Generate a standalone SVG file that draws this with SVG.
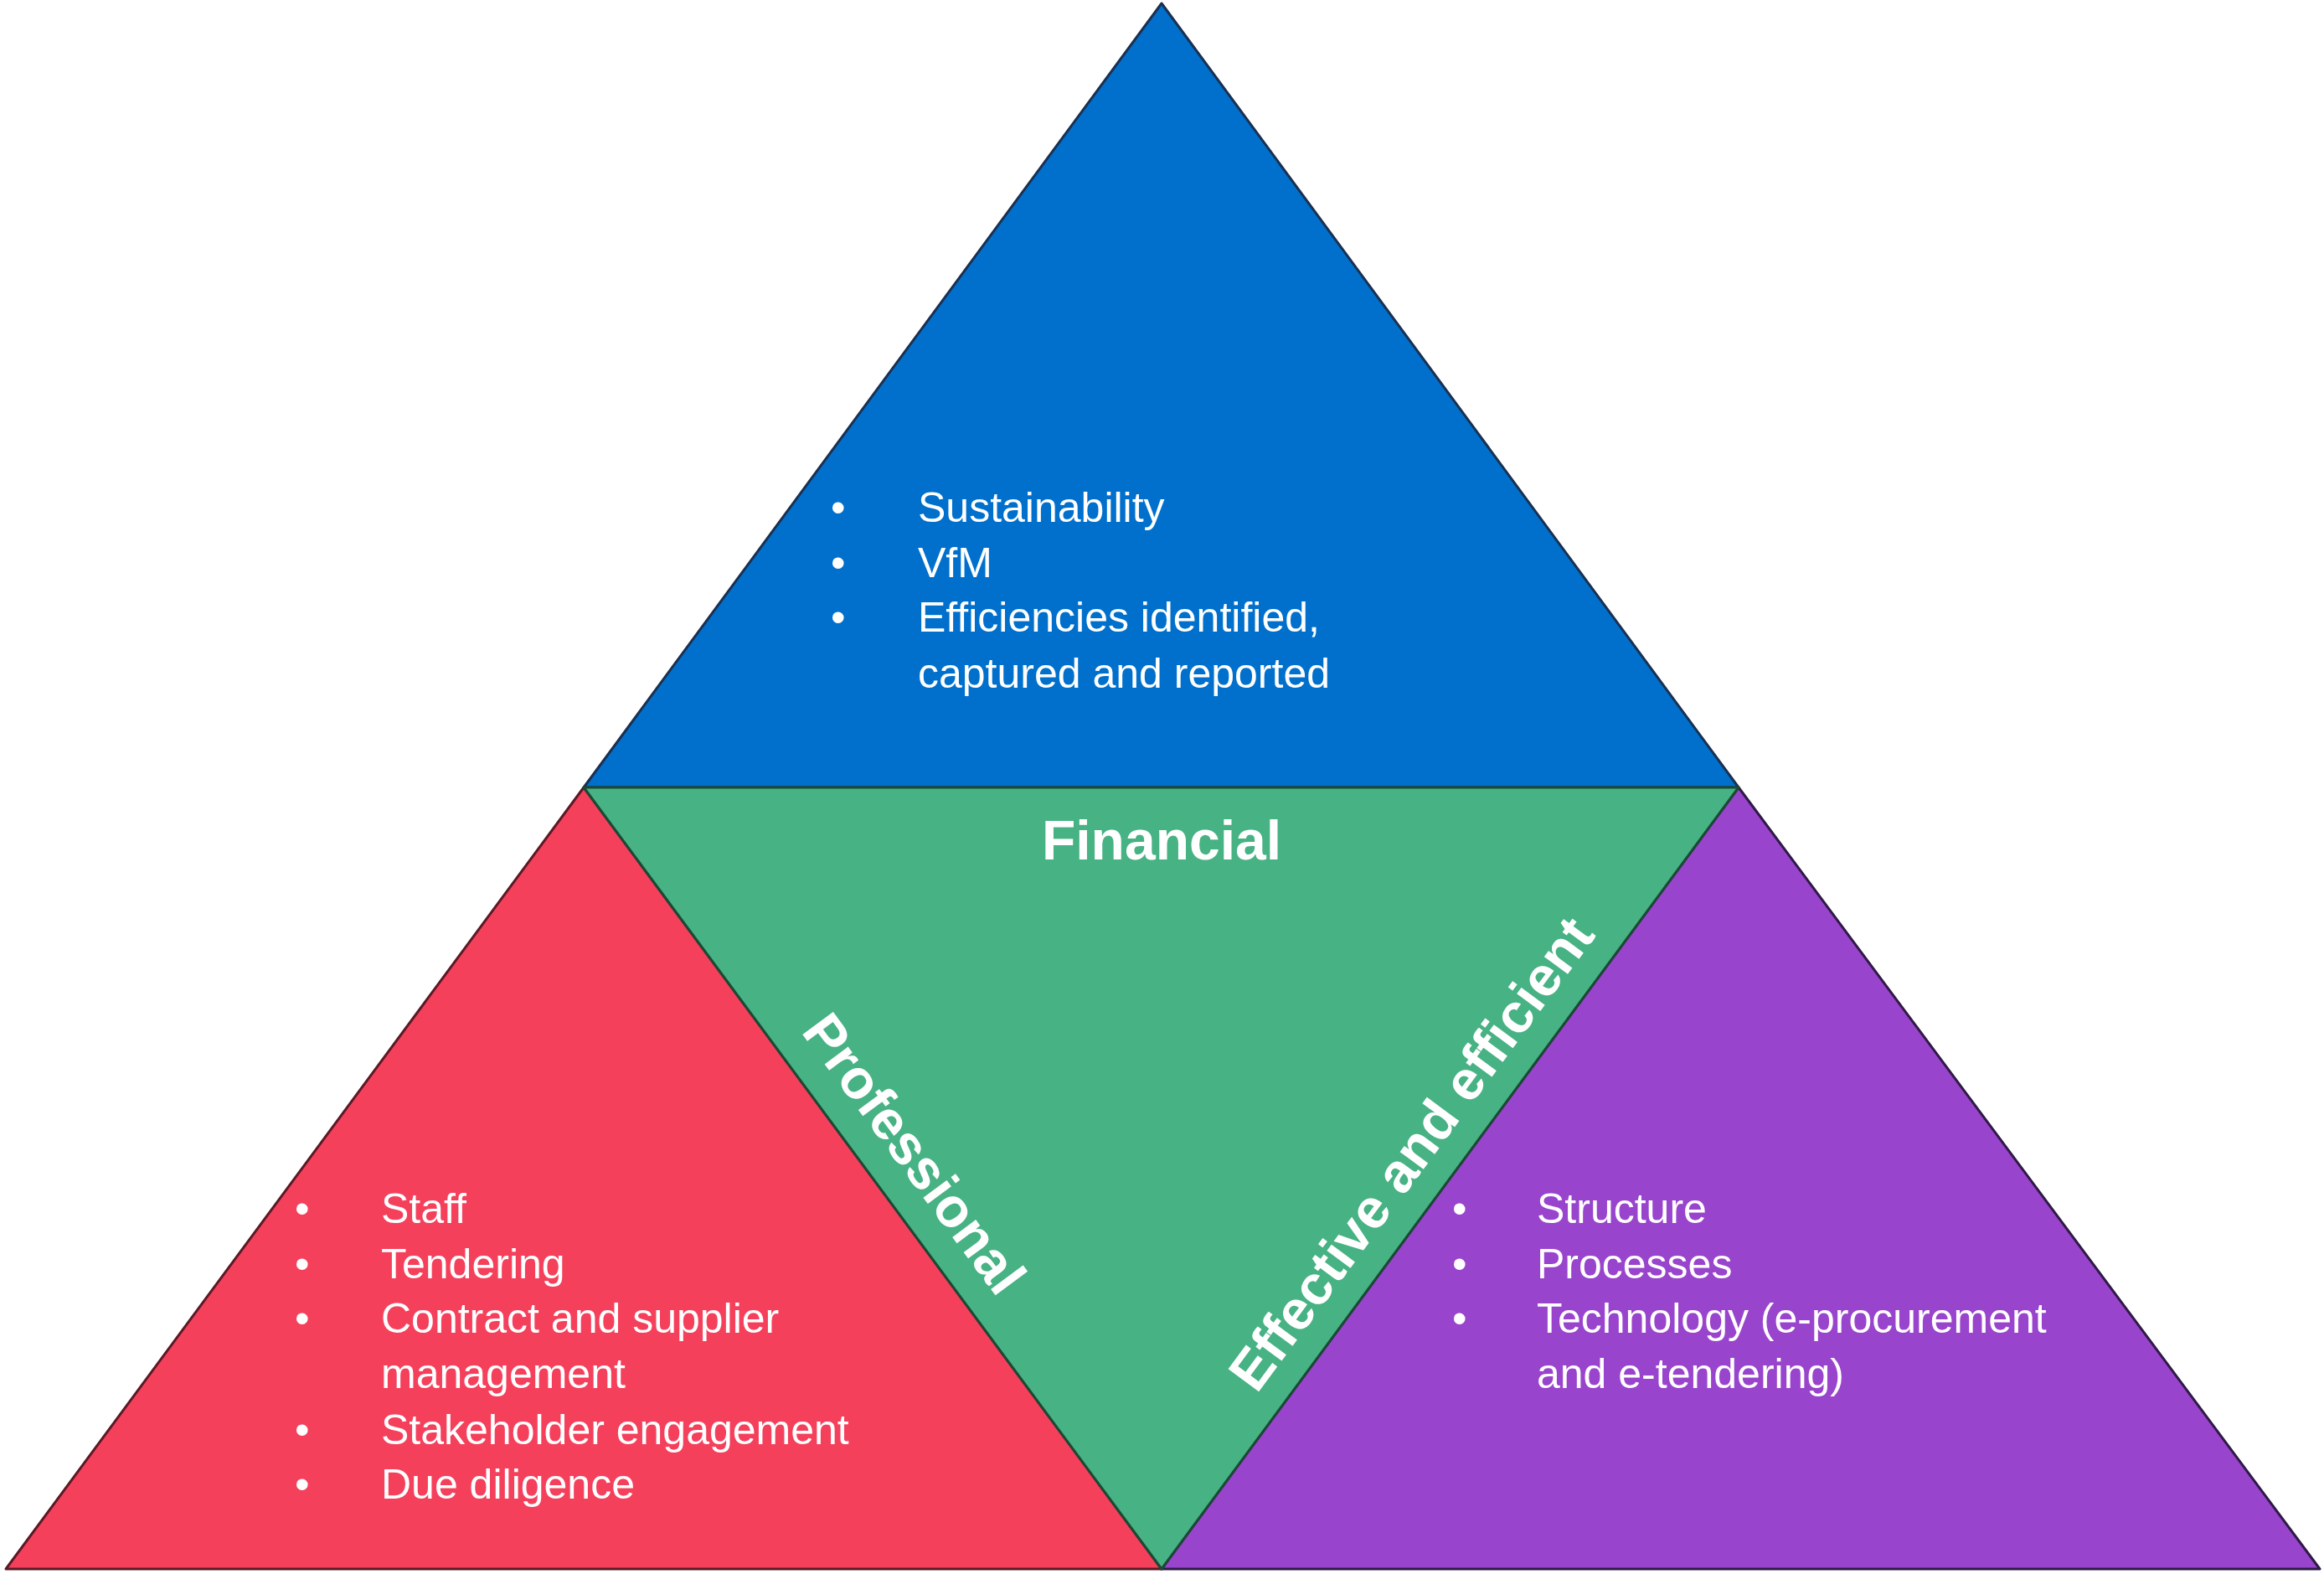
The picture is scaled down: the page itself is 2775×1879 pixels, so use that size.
<svg xmlns="http://www.w3.org/2000/svg" width="2775" height="1879" viewBox="0 0 2775 1879">
<style>
.t{font-family:"Liberation Sans",Arial,sans-serif;font-size:50px;fill:#fff}
.h{font-family:"Liberation Sans",Arial,sans-serif;font-size:66px;font-weight:bold;fill:#fff;text-anchor:middle}
polygon{stroke-width:3;stroke-linejoin:round}
</style>
<rect width="2775" height="1879" fill="#fff"/>
<g id="top"><polygon points="1387,4 2076,940 697,940" fill="#0070CC" stroke="#1a3050"/>
<text class="t"><tspan x="992" y="623">•</tspan><tspan x="1096" y="623">Sustainability</tspan><tspan x="992" y="689">•</tspan><tspan x="1096" y="689">VfM</tspan><tspan x="992" y="754">•</tspan><tspan x="1096" y="754">Efficiencies identified,</tspan><tspan x="1096" y="821">captured and reported</tspan></text></g>
<g id="left"><polygon points="697,940 1387,1873 7,1873" fill="#F5405C" stroke="#5a1a25"/>
<text class="t"><tspan x="352" y="1460">•</tspan><tspan x="455" y="1460">Staff</tspan><tspan x="352" y="1526">•</tspan><tspan x="455" y="1526">Tendering</tspan><tspan x="352" y="1591">•</tspan><tspan x="455" y="1591">Contract and supplier</tspan><tspan x="455" y="1657">management</tspan><tspan x="352" y="1724">•</tspan><tspan x="455" y="1724">Stakeholder engagement</tspan><tspan x="352" y="1789">•</tspan><tspan x="455" y="1789">Due diligence</tspan></text></g>
<g id="right"><polygon points="2076,940 2770,1873 1387,1873" fill="#9944CC" stroke="#2e1a45"/>
<text class="t"><tspan x="1734" y="1460">•</tspan><tspan x="1835" y="1460">Structure</tspan><tspan x="1734" y="1526">•</tspan><tspan x="1835" y="1526">Processes</tspan><tspan x="1734" y="1591">•</tspan><tspan x="1835" y="1591">Technology (e-procurement</tspan><tspan x="1835" y="1657">and e-tendering)</tspan></text></g>
<g id="center"><polygon points="697,940 2076,940 1387,1873" fill="#47B283" stroke="#1a4a35"/>
<text class="h" x="1387" y="1026">Financial</text>
<text class="h" transform="translate(1092,1377) rotate(53.5)" y="23">Professional</text>
<text class="h" transform="translate(1685,1377) rotate(-53.5)" y="23">Effective and efficient</text></g>
<g id="connectors"/>
</svg>
